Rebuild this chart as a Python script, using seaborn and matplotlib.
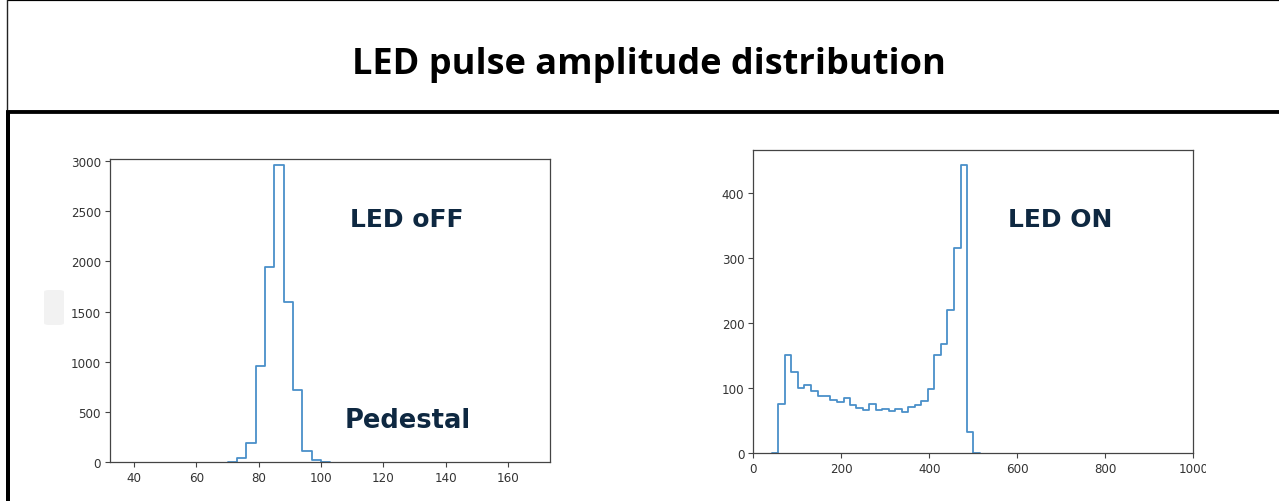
import matplotlib
matplotlib.use("Agg")
import matplotlib.pyplot as plt
import seaborn as sns
import numpy as np
from matplotlib.lines import Line2D
from matplotlib.patches import FancyBboxPatch, Rectangle

# ---------------- data ----------------
title_text = "LED pulse amplitude distribution"

# zero-count bins at each end so the outline drops back to the baseline
off_edges = [70, 73, 76, 79, 82, 85, 88, 91, 94, 97, 100, 103]
off_counts = [0, 37, 190, 958, 1940, 2965, 1590, 722, 110, 18, 0]
off_xticks = [40, 60, 80, 100, 120, 140, 160]
off_yticks = [0, 500, 1000, 1500, 2000, 2500, 3000]
off_label = "LED oFF"
off_label2 = "Pedestal"

on_edges = [42, 57, 72, 86, 101, 116, 131, 146, 160, 175, 190, 205, 219, 234, 249,
            264, 278, 293, 308, 323, 338, 352, 367, 382, 397, 411, 426, 441,
            456, 471, 486, 500, 515]
on_counts = [0, 75, 151, 124, 100, 104, 95, 87, 87, 81, 79, 84, 74, 69, 66,
             75, 66, 68, 64, 68, 63, 71, 73, 80, 99, 151, 168, 220, 315, 443, 33, 0]
on_xticks = [0, 200, 400, 600, 800, 1000]
on_yticks = [0, 100, 200, 300, 400]
on_label = "LED ON"

# ---------------- style ----------------
sns.set_style("white")
plt.rcParams["font.family"] = ["DejaVu Sans"]

W, H = 1279, 502
fig = plt.figure(figsize=(W / 100, H / 100), dpi=100)
fig.patch.set_facecolor("white")

def fx(px):
    return px / W

def fy(py):
    return 1 - py / H

line_color = "#4a90c9"
spine_color = "#444444"
tick_color = "#333333"

def style_axes(ax):
    for s in ax.spines.values():
        s.set_visible(True)
        s.set_color(spine_color)
        s.set_linewidth(0.9)
        s.set_zorder(3)
    ax.tick_params(axis="both", which="major", length=3.5, width=0.8,
                   color=spine_color, labelsize=8.6, labelcolor=tick_color,
                   pad=3, bottom=True, left=True)
    ax.set_xlabel("")
    ax.set_ylabel("")
    ax.grid(False)

# Left axes (LED off)
ax1 = fig.add_axes([fx(110), fy(463), fx(440), (463 - 160) / H])
off_centers = [(a + b) / 2 for a, b in zip(off_edges[:-1], off_edges[1:])]
sns.histplot(x=off_centers, weights=off_counts, bins=off_edges, element="step",
             fill=False, color=line_color, linewidth=1.3, ax=ax1)
ax1.set_xlim(32.3, 173.4)
ax1.set_ylim(0, 3020)
ax1.set_xticks(off_xticks)
ax1.set_yticks(off_yticks)
style_axes(ax1)

# Right axes (LED on)
ax2 = fig.add_axes([fx(753.3), fy(454), fx(440), (454 - 150.7) / H])
on_centers = [(a + b) / 2 for a, b in zip(on_edges[:-1], on_edges[1:])]
sns.histplot(x=on_centers, weights=on_counts, bins=on_edges, element="step",
             fill=False, color=line_color, linewidth=1.3, ax=ax2)
ax2.set_xlim(0, 1000)
ax2.set_ylim(0, 466)
ax2.set_xticks(on_xticks)
ax2.set_yticks(on_yticks)
style_axes(ax2)

# ---------------- slide frame ----------------
def px_line(x0, y0, x1, y1, lw_px, color):
    fig.add_artist(Line2D([fx(x0), fx(x1)], [fy(y0), fy(y1)],
                          transform=fig.transFigure, color=color,
                          linewidth=lw_px * 0.72, solid_capstyle="butt"))

px_line(6.5, 1.0, W, 1.0, 2.2, "black")          # top border
px_line(7.3, 0, 7.3, 112, 1.4, "#222222")         # left border of title box
px_line(6.5, 110.5, W, 110.5, 1.0, "#888888")     # thin grey line
px_line(6.0, 113.2, W, 113.2, 3.8, "black")       # thick separator
px_line(8.2, 112, 8.2, H, 4.0, "black")           # left border of body

# faint grey rounded box (artifact on the slide)
fig.add_artist(FancyBboxPatch((fx(44), fy(326)), fx(20), (326 - 291) / H,
                              boxstyle="round,pad=0,rounding_size=0.004",
                              transform=fig.transFigure, facecolor="#f2f2f2",
                              edgecolor="none"))
# the screenshot crops the end of the last right-hand tick label
fig.add_artist(Rectangle((fx(1206), fy(480)), fx(40), 22 / H,
                         transform=fig.transFigure, facecolor="white",
                         edgecolor="none", zorder=10))

# ---------------- texts ----------------
title_family = ["Open Sans", "DejaVu Sans"]
label_family = ["DejaVu Sans"]
navy = "#0e2841"

fig.text(fx(649), fy(74), title_text, ha="center", va="baseline",
         fontsize=26, fontweight="bold", color="black", family=title_family)
fig.text(fx(407), fy(226.8), off_label, ha="center", va="baseline",
         fontsize=18, fontweight="bold", color=navy, family=label_family)
fig.text(fx(407.3), fy(428.3), off_label2, ha="center", va="baseline",
         fontsize=18.5, fontweight="bold", color=navy, family=label_family)
fig.text(fx(1060), fy(227), on_label, ha="center", va="baseline",
         fontsize=18, fontweight="bold", color=navy, family=label_family)

fig.savefig("out.png", dpi=100, facecolor="white")
